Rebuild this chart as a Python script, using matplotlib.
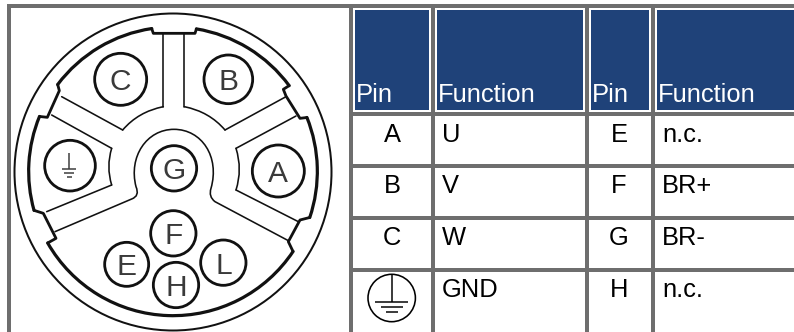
import matplotlib
matplotlib.use("Agg")
import math
import matplotlib.pyplot as plt
from matplotlib.patches import Arc, Circle, Rectangle, PathPatch
from matplotlib.path import Path

plt.rcParams["font.family"] = ["Liberation Sans", "DejaVu Sans"]

GREY = "#6e6e6e"
BLUE = "#1f4279"
INK = "#111111"

# table content
header_labels = ["Pin", "Function", "Pin", "Function"]
left_pins = ["A", "B", "C", None]
left_funcs = ["U", "V", "W", "GND"]
right_pins = ["E", "F", "G", "H"]
right_funcs = ["n.c.", "BR+", "BR-", "n.c."]

# table geometry, pixels
v_rules = [(7, 11), (349, 352.7), (431, 435), (585, 589), (651, 655)]
h_rules = [(112, 116), (164, 168), (216, 219.7), (268, 272)]
header_cells = [(355, 429), (437, 583), (591, 649), (657, 794)]
header_text_x = [356, 438, 592, 658]
row_baselines = [142, 193, 245, 297]

# connector pins: label, x, y, radius (read at 3x zoom)
pin_labels = ["C", "B", "", "G", "A", "F", "E", "L", "H"]
pin_x = [362, 685, 210, 522, 835, 520, 380, 670, 528]
pin_y = [238, 238, 497, 505, 513, 700, 793, 788, 855]
pin_r = [78, 73, 76, 68, 78, 68, 66, 68, 68]

# inner ring, also in zoom coordinates
RING_C = (519, 514)
RING_R = 433

PX = 72 / 100


def z(pt):
    return (pt[0] / 3, pt[1] / 3)


def on_ring(pt):
    a = math.atan2(pt[1] - RING_C[1], pt[0] - RING_C[0])
    return (RING_C[0] + RING_R * math.cos(a), RING_C[1] + RING_R * math.sin(a))


def stroke(ax, pts, lw, codes=None):
    path = Path([z(p) for p in pts], codes)
    ax.add_patch(PathPatch(path, fc="none", ec=INK, lw=lw * PX, capstyle="round", joinstyle="round"))


def curve(ax, start, ctrl, end, lw):
    stroke(ax, [start, ctrl, end], lw, [Path.MOVETO, Path.CURVE3, Path.CURVE3])


def ring_arc(ax, start, end, lw):
    t0 = math.degrees(math.atan2(start[1] - RING_C[1], start[0] - RING_C[0]))
    t1 = math.degrees(math.atan2(end[1] - RING_C[1], end[0] - RING_C[0]))
    ax.add_patch(Arc(z(RING_C), 2 * RING_R / 3, 2 * RING_R / 3, theta1=t0, theta2=t1,
                     ec=INK, lw=lw * PX, capstyle="round"))


def ground(ax, x, top, bar_y, gap, widths, lw, color=INK):
    ax.plot([x, x], [top, bar_y], color=color, lw=lw * PX, solid_capstyle="butt")
    for i, w in enumerate(widths):
        y = bar_y + i * gap
        ax.plot([x - w, x + w], [y, y], color=color, lw=lw * PX, solid_capstyle="butt")


fig = plt.figure(figsize=(7.94, 3.32), dpi=100)
ax = fig.add_axes([0, 0, 1, 1])
ax.set_xlim(0, 794)
ax.set_ylim(332, 0)
ax.axis("off")

# table frame
ax.add_patch(Rectangle((7, 4), 787, 4, fc=GREY, ec="none"))
for x0, x1 in v_rules:
    ax.add_patch(Rectangle((x0, 4), x1 - x0, 328, fc=GREY, ec="none"))
for y0, y1 in h_rules:
    ax.add_patch(Rectangle((349, y0), 445, y1 - y0, fc=GREY, ec="none"))

# header
for (x0, x1), tx, label in zip(header_cells, header_text_x, header_labels):
    ax.add_patch(Rectangle((x0, 10), x1 - x0, 100, fc=BLUE, ec="none"))
    ax.text(tx, 102, label, color="white", fontsize=18.4, va="baseline", ha="left")

# body
for i, base in enumerate(row_baselines):
    if left_pins[i]:
        ax.text(392, base, left_pins[i], color="black", fontsize=18.4, va="baseline", ha="center")
    ax.text(442, base, left_funcs[i], color="black", fontsize=18.4, va="baseline", ha="left")
    ax.text(619, base, right_pins[i], color="black", fontsize=18.4, va="baseline", ha="center")
    ax.text(662, base, right_funcs[i], color="black", fontsize=18.4, va="baseline", ha="left")

# protective earth symbol in the table
ax.add_patch(Circle((391.7, 298), 23.7, fc="none", ec="black", lw=1.6 * PX))
ground(ax, 391.7, 275, 302, 5, [16.5, 11, 6], 1.5, "black")

# connector outer ring
ax.add_patch(Circle((173, 172), 158.5, fc="none", ec=INK, lw=2.0 * PX))

# inner ring with its keyed notches, arcs run clockwise on screen
ring = [((590, 82), (870, 255)),
        ((922, 352), (922, 650)),
        ((880, 755), (150, 725)),
        ((106, 630), (120, 350)),
        ((175, 255), (455, 85))]
for start, end in ring:
    ring_arc(ax, start, end, 3.2)
steps = [[(455, 85), (460, 100), (585, 100), (590, 82)],
         [(870, 255), (850, 268), (858, 288), (900, 355), (922, 352)],
         [(922, 650), (900, 660), (865, 725), (880, 755)],
         [(150, 725), (168, 715), (130, 640), (106, 630)],
         [(120, 350), (142, 352), (178, 272), (175, 255)]]
for pts in steps:
    stroke(ax, [on_ring(pts[0])] + pts[1:-1] + [on_ring(pts[-1])], 2.8)

# insert outlines
lw_thin = 1.6
stroke(ax, [(490, 100), (490, 320)], lw_thin)
stroke(ax, [(553, 100), (553, 320)], lw_thin)
curve(ax, (490, 320), (415, 335), (368, 390), lw_thin)
curve(ax, (553, 320), (628, 335), (675, 390), lw_thin)
stroke(ax, [(368, 390), (185, 290)], lw_thin)
stroke(ax, [(675, 390), (858, 290)], lw_thin)
stroke(ax, [(155, 345), (335, 445)], lw_thin)
curve(ax, (335, 445), (318, 500), (335, 555), lw_thin)
stroke(ax, [(335, 555), (140, 635)], lw_thin)
stroke(ax, [(888, 348), (708, 445)], lw_thin)
curve(ax, (708, 445), (728, 508), (708, 570), lw_thin)
stroke(ax, [(708, 570), (895, 665)], lw_thin)

# centre insert around G
stroke(ax, [(165, 695), (395, 597), (420, 588), (408, 560),
            (385, 470), (440, 388), (522, 388),
            (605, 388), (660, 470), (633, 565),
            (625, 590), (645, 605), (865, 722)], lw_thin,
       [Path.MOVETO, Path.LINETO, Path.CURVE3, Path.CURVE3,
        Path.CURVE4, Path.CURVE4, Path.CURVE4,
        Path.CURVE4, Path.CURVE4, Path.CURVE4,
        Path.CURVE3, Path.CURVE3, Path.LINETO])

# pins
for label, px, py, r in zip(pin_labels, pin_x, pin_y, pin_r):
    ax.add_patch(Circle(z((px, py)), r / 3, fc="white", ec=INK, lw=2.8 * PX))
    if label:
        ax.text(px / 3, py / 3 + 11, label, color="#3a3a3a", fontsize=21.5,
                va="baseline", ha="center")
ground(ax, 69, 153, 169, 4, [7.3, 5, 2.5], 1.5, "#3a3a3a")

fig.savefig("out.png", dpi=100)
